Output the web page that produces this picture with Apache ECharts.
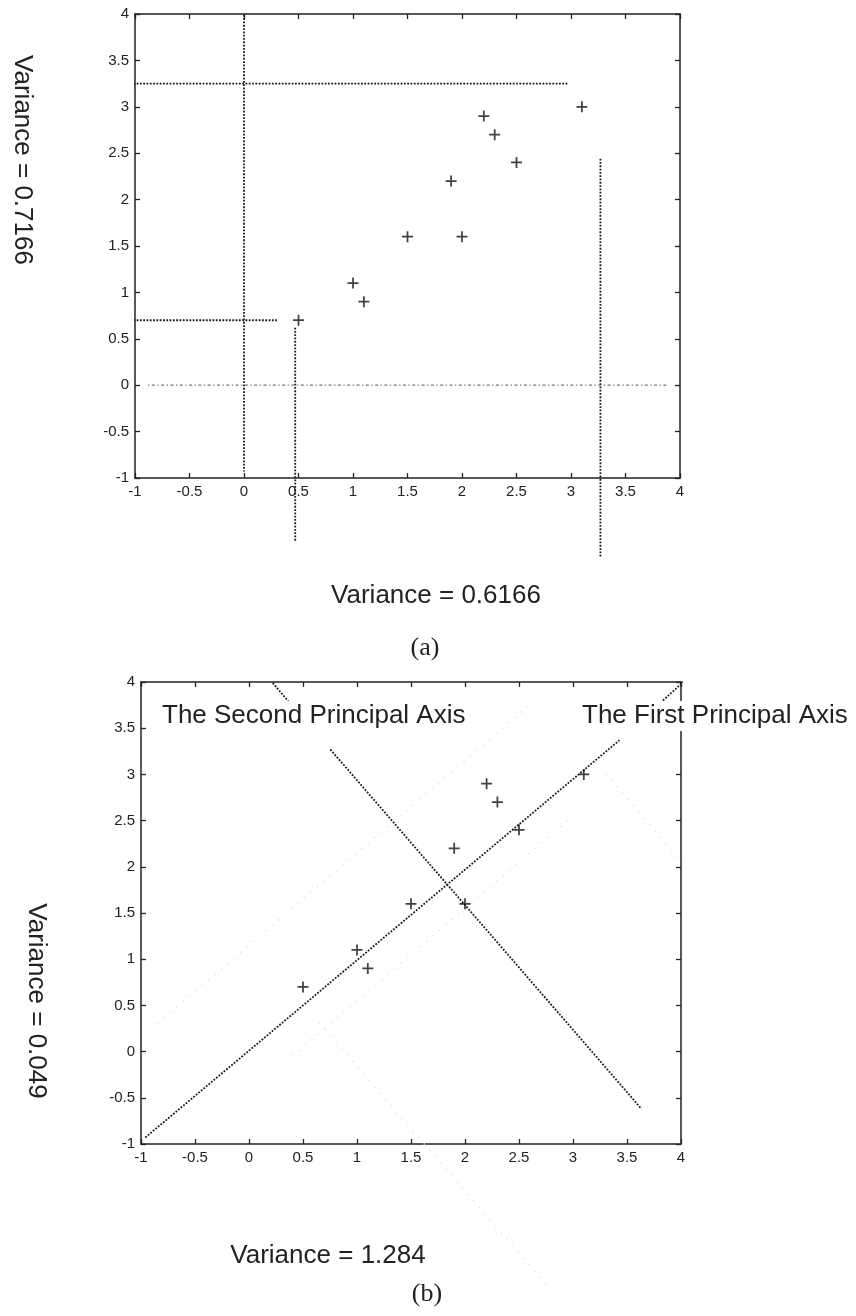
<!DOCTYPE html>
<html>
<head>
<meta charset="utf-8">
<script src="https://cdn.jsdelivr.net/npm/echarts@6/dist/echarts.min.js"></script>
<style>
html,body{margin:0;padding:0;background:#fff;}
#chart{width:856px;height:1316px;}
</style>
</head>
<body>
<div id="chart"></div>
<script>
// ---- data ----
const xs = [2.5, 0.5, 2.2, 1.9, 3.1, 2.3, 2.0, 1.0, 1.5, 1.1];
const ys = [2.4, 0.7, 2.9, 2.2, 3.0, 2.7, 1.6, 1.1, 1.6, 0.9];
const axisMin = -1, axisMax = 4, tickStep = 0.5;

// (a) range lines
const aVertZero   = [[0, 3.99], [0, -0.93]];
const aHorizTop   = [[-1.5, 3.25], [2.97, 3.25]];
const aHorizLow   = [[-1.5, 0.7], [0.31, 0.7]];
const aVertLeft   = [[0.47, 0.62], [0.47, -1.69]];
const aVertRight  = [[3.27, 2.44], [3.27, -1.85]];
const aHorizZero  = [[-0.88, 0], [3.89, 0]];

// (b) principal axes
const bFirstLow   = [[-0.96, -0.93], [3.43, 3.37]];
const bFirstHigh  = [[3.72, 3.68], [4.04, 4.02]];
const bSecondTop  = [[0.22, 3.99], [0.38, 3.77]];
const bSecondLow  = [[0.753, 3.27], [3.634, -0.62]];
// (b) faint range lines
const bFaint1 = [[-0.85, 0.30], [2.6, 3.75]];
const bFaint2 = [[0.4, -0.05], [3.0, 2.55]];
const bFaint3 = [[0.65, 0.31], [2.75, -2.52]];
const bFaint4 = [[3.3, 3.01], [5.6, -0.09]];

const labelA_x = 'Variance = 0.6166';
const labelA_y = 'Variance = 0.7166';
const labelB_x = 'Variance = 1.284';
const labelB_y = 'Variance = 0.049';
const capA = '(a)', capB = '(b)';
const axis1Text = 'The First Principal Axis';
const axis2Text = 'The Second Principal Axis';

// ---- build ----
const pts = xs.map((x, i) => [x, ys[i]]);
const FONT = "'Liberation Sans', Arial, sans-serif";
const SERIF = "'Liberation Serif', 'Times New Roman', serif";
const AX = '#222';

function valAxis(gridIndex, position, showLabel) {
  return {
    type: 'value', gridIndex, position,
    min: axisMin, max: axisMax, interval: tickStep,
    axisLine: {show: true, onZero: false, lineStyle: {color: AX, width: 1.5}},
    axisTick: {show: true, inside: true, length: 5, lineStyle: {color: AX, width: 1.3}},
    axisLabel: {show: showLabel, color: '#222', fontSize: 15, fontFamily: FONT, margin: 6,
                showMinLabel: true, showMaxLabel: true},
    splitLine: {show: false}
  };
}

function lineS(data, xi, yi, color, width, dash) {
  return {
    type: 'line', xAxisIndex: xi, yAxisIndex: yi, data, symbol: 'none', clip: false,
    silent: true, lineStyle: {color, width, type: dash}, z: 3
  };
}
const DOT = [1.8, 1.5];
const dark = '#1a1a1a';
const faint = '#e4e4e4';
const FAINTDOT = [1.4, 7];

const plus = 'path://M4.2,0H5.8V4.2H10V5.8H5.8V10H4.2V5.8H0V4.2H4.2Z';

const option = {
  animation: false,
  backgroundColor: '#fff',
  grid: [
    {left: 135, top: 14, width: 545, height: 464},
    {left: 141, top: 682, width: 540, height: 462}
  ],
  xAxis: [
    valAxis(0, 'bottom', true), valAxis(0, 'top', false),
    valAxis(1, 'bottom', true), valAxis(1, 'top', false)
  ],
  yAxis: [
    valAxis(0, 'left', true), valAxis(0, 'right', false),
    valAxis(1, 'left', true), valAxis(1, 'right', false)
  ],
  series: [
    lineS(aVertZero, 0, 0, dark, 1.8, DOT),
    lineS(aHorizTop, 0, 0, dark, 1.8, DOT),
    lineS(aHorizLow, 0, 0, dark, 1.8, DOT),
    lineS(aVertLeft, 0, 0, dark, 1.8, DOT),
    lineS(aVertRight, 0, 0, dark, 1.8, DOT),
    lineS(aHorizZero, 0, 0, '#777', 1.3, [1.3, 2.5, 3, 2.5]),
    {type: 'scatter', xAxisIndex: 0, yAxisIndex: 0, data: pts, symbol: plus, symbolSize: 11,
     itemStyle: {color: '#111'}, z: 5, silent: true},

    lineS(bFaint1, 2, 2, faint, 1.4, FAINTDOT),
    lineS(bFaint2, 2, 2, faint, 1.4, FAINTDOT),
    lineS(bFaint3, 2, 2, faint, 1.4, FAINTDOT),
    lineS(bFaint4, 2, 2, faint, 1.4, FAINTDOT),
    lineS(bFirstLow, 2, 2, dark, 1.8, DOT),
    lineS(bFirstHigh, 2, 2, dark, 1.8, DOT),
    lineS(bSecondTop, 2, 2, dark, 1.8, DOT),
    lineS(bSecondLow, 2, 2, dark, 1.8, DOT),
    {type: 'scatter', xAxisIndex: 2, yAxisIndex: 2, data: pts, symbol: plus, symbolSize: 11,
     itemStyle: {color: '#111'}, z: 5, silent: true}
  ],
  graphic: [
    {type: 'text', x: 436, y: 596, z: 100, style: {text: labelA_x, font: '26px ' + FONT, fill: '#222', align: 'center', verticalAlign: 'middle'}},
    {type: 'text', x: 425, y: 648, z: 100, style: {text: capA, font: '26px ' + SERIF, fill: '#222', align: 'center', verticalAlign: 'middle'}},
    {type: 'text', x: 22, y: 160, rotation: -Math.PI / 2, z: 100, style: {text: labelA_y, font: '26px ' + FONT, fill: '#222', align: 'center', verticalAlign: 'middle'}},
    {type: 'text', x: 328, y: 1256, z: 100, style: {text: labelB_x, font: '26px ' + FONT, fill: '#222', align: 'center', verticalAlign: 'middle'}},
    {type: 'text', x: 427, y: 1294, z: 100, style: {text: capB, font: '26px ' + SERIF, fill: '#222', align: 'center', verticalAlign: 'middle'}},
    {type: 'text', x: 36, y: 1001, rotation: -Math.PI / 2, z: 100, style: {text: labelB_y, font: '26px ' + FONT, fill: '#222', align: 'center', verticalAlign: 'middle'}},
    {type: 'text', x: 160, y: 716, z: 100, style: {text: axis2Text, font: '26px ' + FONT, fill: '#222', align: 'left', verticalAlign: 'middle', backgroundColor: '#fff', padding: [2, 2]}},
    {type: 'text', x: 580, y: 716, z: 100, style: {text: axis1Text, font: '26px ' + FONT, fill: '#222', align: 'left', verticalAlign: 'middle', backgroundColor: '#fff', padding: [2, 2]}}
  ]
};

const chart = echarts.init(document.getElementById('chart'), null, {renderer: 'canvas'});
chart.setOption(option);
</script>
</body>
</html>
